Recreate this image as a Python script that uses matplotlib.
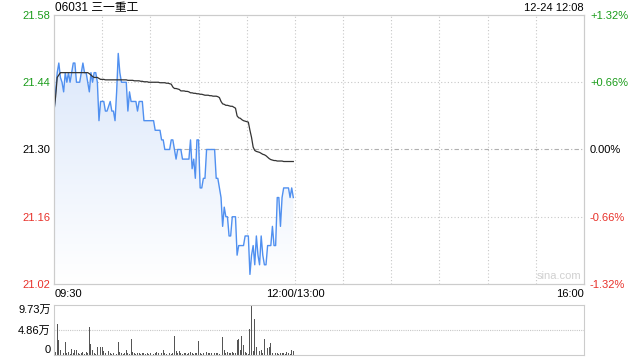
import matplotlib
matplotlib.use("Agg")
import matplotlib.pyplot as plt
import numpy as np
from matplotlib.patches import Polygon
from matplotlib.colors import LinearSegmentedColormap

plt.rcParams['font.family'] = ['Liberation Sans', 'Noto Sans CJK SC', 'DejaVu Sans']

title = "06031 三一重工"
stamp = "12-24 12:08"
prev_close = 21.30
y_ticks = [21.58, 21.44, 21.30, 21.16, 21.02]
pct_labels = ["+1.32%", "+0.66%", "0.00%", "-0.66%", "-1.32%"]
x_tick_pos = [0, 150, 330]
x_tick_labels = ["09:30", "12:00/13:00", "16:00"]
vol_ticks = [0, 4.86, 9.73]
vol_labels = ["0", "4.86万", "9.73万"]

# price per minute (09:30 -> 11:59)
price = [21.38, 21.42, 21.46, 21.48, 21.45, 21.44, 21.42, 21.46, 21.44, 21.46,
         21.44, 21.46, 21.48, 21.48, 21.44, 21.44, 21.44, 21.46, 21.48, 21.46,
         21.46, 21.44, 21.42, 21.46, 21.44, 21.46, 21.46, 21.44, 21.36, 21.40,
         21.40, 21.40, 21.38, 21.38, 21.39, 21.40, 21.38, 21.38, 21.36, 21.42,
         21.50, 21.46, 21.44, 21.44, 21.44, 21.44, 21.38, 21.42, 21.40, 21.40,
         21.40, 21.40, 21.38, 21.40, 21.40, 21.40, 21.36, 21.36, 21.36, 21.36,
         21.36, 21.36, 21.36, 21.34, 21.34, 21.34, 21.34, 21.32, 21.32, 21.30,
         21.30, 21.30, 21.30, 21.32, 21.32, 21.30, 21.28, 21.30, 21.30, 21.30,
         21.28, 21.28, 21.28, 21.28, 21.28, 21.32, 21.26, 21.28, 21.24, 21.32,
         21.32, 21.22, 21.22, 21.24, 21.24, 21.30, 21.30, 21.30, 21.30, 21.30,
         21.30, 21.24, 21.24, 21.22, 21.20, 21.14, 21.18, 21.16, 21.16, 21.12,
         21.12, 21.16, 21.16, 21.16, 21.08, 21.10, 21.10, 21.10, 21.10, 21.12,
         21.12, 21.12, 21.04, 21.08, 21.10, 21.06, 21.12, 21.08, 21.06, 21.12,
         21.08, 21.06, 21.06, 21.10, 21.10, 21.10, 21.14, 21.10, 21.10, 21.20,
         21.20, 21.14, 21.20, 21.22, 21.22, 21.22, 21.22, 21.20, 21.22, 21.20]

avg = [21.38, 21.41, 21.45, 21.455, 21.46, 21.46, 21.46, 21.46, 21.46, 21.46,
       21.46, 21.46, 21.46, 21.46, 21.46, 21.46, 21.46, 21.46, 21.46, 21.46,
       21.46, 21.46, 21.458, 21.455, 21.452, 21.45, 21.45, 21.45, 21.448, 21.446,
       21.446, 21.446, 21.445, 21.445, 21.445, 21.445, 21.445, 21.445, 21.445, 21.445,
       21.445, 21.445, 21.445, 21.445, 21.445, 21.445, 21.444, 21.444, 21.444, 21.444,
       21.443, 21.443, 21.443, 21.443, 21.442, 21.442, 21.441, 21.441, 21.441, 21.440,
       21.440, 21.440, 21.440, 21.440, 21.440, 21.440, 21.439, 21.439, 21.439, 21.439,
       21.438, 21.438, 21.437, 21.436, 21.43, 21.427, 21.427, 21.426, 21.425, 21.422,
       21.422, 21.422, 21.421, 21.421, 21.420, 21.418, 21.418, 21.417, 21.417, 21.416,
       21.416, 21.415, 21.415, 21.414, 21.413, 21.413, 21.413, 21.412, 21.412, 21.411,
       21.411, 21.411, 21.410, 21.408, 21.40, 21.395, 21.394, 21.392, 21.392, 21.391,
       21.390, 21.390, 21.388, 21.386, 21.37, 21.366, 21.365, 21.362, 21.360, 21.359,
       21.358, 21.357, 21.34, 21.325, 21.305, 21.298, 21.296, 21.295, 21.294, 21.292,
       21.290, 21.289, 21.287, 21.284, 21.281, 21.279, 21.278, 21.277, 21.277, 21.276,
       21.276, 21.276, 21.276, 21.275, 21.275, 21.275, 21.275, 21.275, 21.275, 21.275]

# volume per minute, in 万 shares
volume = [4.35, 0.6, 6.03, 2.9, 1.0, 0.8, 0.3, 2.6, 0.4, 0.5,
          0.2, 1.2, 0.3, 0.9, 1.0, 0.4, 0.2, 0.3, 0.5, 0.2,
          0.5, 0.3, 5.5, 2.1, 0.9, 0.3, 0.2, 1.6, 1.6, 1.6,
          1.6, 0.7, 0.3, 0.2, 0.7, 0.4, 0.2, 0.3, 0.4, 0.2,
          2.6, 0.6, 0.3, 0.2, 0.4, 1.0, 0.3, 0.2, 3.2, 0.5,
          0.3, 0.2, 0.4, 0.3, 0.2, 0.3, 0.4, 0.2, 0.3, 0.2,
          0.3, 0.4, 0.2, 0.3, 0.5, 0.3, 0.2, 0.4, 1.0, 0.3,
          0.2, 0.3, 0.4, 0.2, 0.3, 3.7, 0.7, 0.3, 0.8, 0.3,
          0.2, 0.4, 0.3, 0.2, 0.3, 0.5, 0.3, 0.2, 0.4, 0.3,
          2.7, 0.4, 0.2, 0.3, 0.4, 0.5, 0.3, 0.4, 0.3, 0.5,
          0.3, 0.4, 0.3, 0.2, 0.4, 3.6, 1.0, 0.3, 0.5, 0.4,
          0.3, 0.5, 0.4, 0.3, 2.9, 3.2, 1.0, 3.7, 2.0, 0.6,
          0.3, 0.2, 5.0, 9.73, 0.8, 7.1, 1.6, 1.3, 0.8, 1.0,
          0.4, 3.2, 1.3, 1.4, 1.6, 2.4, 0.3, 0.2, 0.3, 0.4,
          0.2, 0.3, 0.4, 0.3, 0.2, 0.5, 0.3, 0.2, 1.0, 0.8]

minutes = np.arange(len(price))

GREEN = '#1a9c1a'
RED = '#e8312a'
GRID = '#c8c8c8'
FRAME = '#cccccc'

fig = plt.figure(figsize=(6.4, 3.6), dpi=100)
ax = fig.add_axes([54/640, 1-284/360, 530/640, 269/360])
axv = fig.add_axes([54/640, 1-355/360, 530/640, 50/360])

ymin, ymax = y_ticks[-1], y_ticks[0]
ax.set_xlim(0, 330)
ax.set_ylim(ymin, ymax)

# gradient fill under price
grad = np.linspace(0, 1, 256).reshape(-1, 1)
cmap = LinearSegmentedColormap.from_list('g', ['#ffffff', '#d6e4fa'])
im = ax.imshow(grad, extent=[0, 330, ymin, ymax], aspect='auto', cmap=cmap,
               origin='lower', zorder=1)
verts = [(minutes[0], ymin)] + list(zip(minutes, price)) + [(minutes[-1], ymin)]
poly = Polygon(verts, closed=True, facecolor='none', edgecolor='none')
ax.add_patch(poly)
im.set_clip_path(poly)

# grid
for k in range(1, 11):
    ax.axvline(k * 30, color=GRID, lw=0.8, ls=(0, (1, 2)), zorder=0.5)
for yv in [y_ticks[1], y_ticks[3]]:
    ax.axhline(yv, color=GRID, lw=0.8, ls=(0, (1, 2)), zorder=0.5)
ax.axhline(prev_close, color='#b0b0b0', lw=0.8, ls=(0, (4, 2, 1, 2)), zorder=0.5)

ax.plot(minutes, price, color='#5090f0', lw=1.0, zorder=3)
ax.plot(minutes, avg, color='#333333', lw=0.9, zorder=3)

colors = [GREEN, GREEN, 'black', RED, RED]
ax.set_yticks(y_ticks)
ax.set_yticklabels([f"{v:.2f}" for v in y_ticks])
for lbl, c in zip(ax.get_yticklabels(), colors):
    lbl.set_color(c)
ax.tick_params(axis='y', length=0, labelsize=8, pad=2.4)
ax.set_xticks(x_tick_pos)
ax.set_xticklabels([])
ax.tick_params(axis='x', length=0)

ax2 = ax.twinx()
ax2.set_ylim(ymin, ymax)
ax2.set_yticks(y_ticks)
ax2.set_yticklabels(pct_labels)
for lbl, c in zip(ax2.get_yticklabels(), colors):
    lbl.set_color(c)
ax2.tick_params(axis='y', length=0, labelsize=8, pad=4.3)
for a in (ax, ax2):
    for s in a.spines.values():
        s.set_color(FRAME)
        s.set_linewidth(0.8)

# x labels
fig.text(55/640, 1-294/360, x_tick_labels[0], ha='left', va='center', fontsize=8)
fig.text(295/640, 1-294/360, x_tick_labels[1], ha='center', va='center', fontsize=8)
fig.text(584/640, 1-294/360, x_tick_labels[2], ha='right', va='center', fontsize=8)

fig.text(55/640, 1-8/360, title, ha='left', va='center', fontsize=8.5)
fig.text(584/640, 1-8/360, stamp, ha='right', va='center', fontsize=8)
ax.text(0.995, 0.012, "sina.com", transform=ax.transAxes, ha='right', va='bottom',
        fontsize=8, color='#d0d0d0')

# volume
axv.set_xlim(0, 330)
axv.set_ylim(0, vol_ticks[-1])
axv.bar(minutes, volume, width=0.55, color='#555555', zorder=2)
axv.axhline(vol_ticks[1], color=GRID, lw=0.8, ls=(0, (1, 1)), zorder=0.5)
axv.set_yticks(vol_ticks)
axv.set_yticklabels(vol_labels)
axv.tick_params(axis='y', length=0, labelsize=8, pad=2.4)
ylbls = axv.get_yticklabels()
ylbls[0].set_va('bottom')
ylbls[2].set_va('top')
axv.set_xticks([])
for name, s in axv.spines.items():
    s.set_color(FRAME)
    s.set_linewidth(0.8)
axv.spines['top'].set_linestyle((0, (1, 1)))
axv.spines['left'].set_linestyle((0, (1, 1)))

fig.savefig('out.png', dpi=100)
